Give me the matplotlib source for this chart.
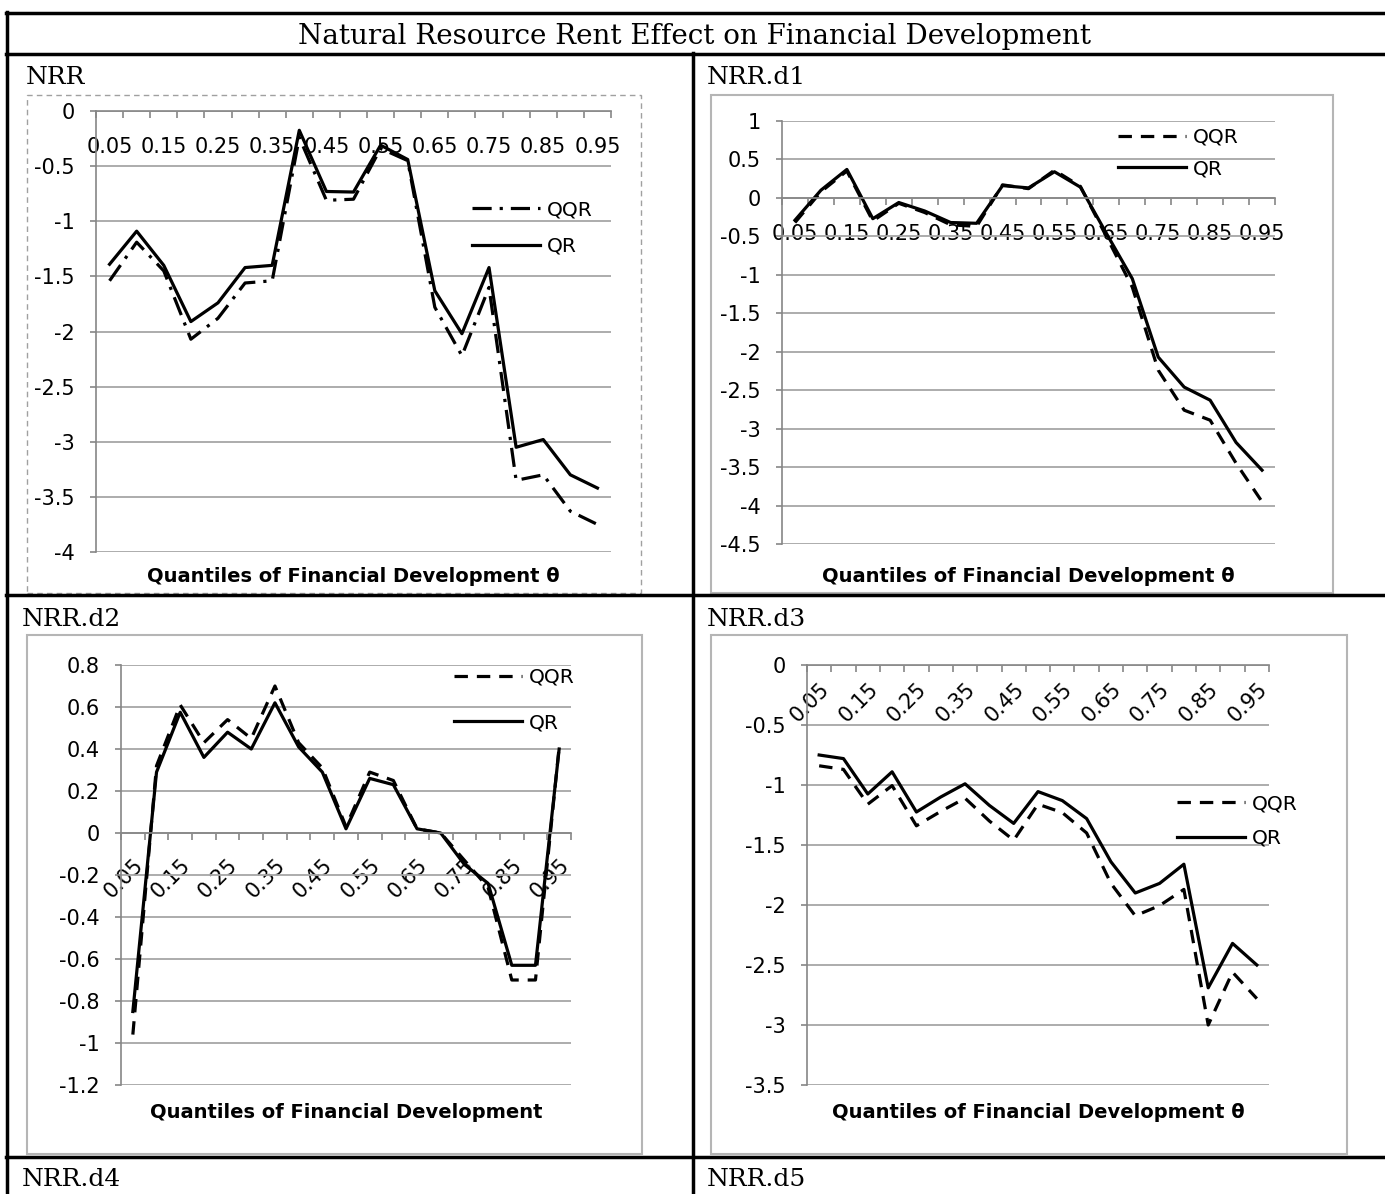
import matplotlib
matplotlib.use("Agg")
import matplotlib.pyplot as plt
from matplotlib.lines import Line2D
from matplotlib.patches import Rectangle

W, H = 1385, 1194

QUANTILES = ["0.05", "0.10", "0.15", "0.20", "0.25", "0.30", "0.35", "0.40", "0.45", "0.50",
             "0.55", "0.60", "0.65", "0.70", "0.75", "0.80", "0.85", "0.90", "0.95"]

NRR_QQR = [-1.54, -1.19, -1.45, -2.07, -1.88, -1.56, -1.54, -0.24, -0.81, -0.80,
           -0.34, -0.45, -1.78, -2.22, -1.60, -3.35, -3.30, -3.63, -3.75]
NRR_QR = [-1.39, -1.09, -1.40, -1.91, -1.74, -1.42, -1.40, -0.175, -0.73, -0.735,
          -0.31, -0.44, -1.63, -2.02, -1.42, -3.05, -2.98, -3.30, -3.42]

D1_QQR = [-0.32, 0.08, 0.35, -0.30, -0.07, -0.19, -0.35, -0.37, 0.17, 0.12,
          0.36, 0.15, -0.50, -1.16, -2.24, -2.76, -2.89, -3.45, -3.95]
D1_QR = [-0.29, 0.10, 0.37, -0.27, -0.06, -0.17, -0.32, -0.33, 0.16, 0.13,
         0.34, 0.14, -0.46, -1.05, -2.07, -2.46, -2.63, -3.18, -3.54]

D2_QQR = [-0.96, 0.32, 0.61, 0.43, 0.54, 0.45, 0.70, 0.43, 0.31, 0.03,
          0.29, 0.25, 0.02, 0.00, -0.13, -0.26, -0.70, -0.70, 0.41]
D2_QR = [-0.85, 0.29, 0.575, 0.36, 0.48, 0.40, 0.62, 0.41, 0.29, 0.02,
         0.26, 0.23, 0.02, 0.00, -0.15, -0.24, -0.63, -0.63, 0.40]

D3_QQR = [-0.84, -0.87, -1.16, -1.005, -1.34, -1.22, -1.11, -1.30, -1.46, -1.16,
          -1.23, -1.40, -1.82, -2.09, -2.005, -1.87, -3.00, -2.56, -2.78]
D3_QR = [-0.75, -0.78, -1.075, -0.89, -1.225, -1.10, -0.99, -1.17, -1.32, -1.055,
         -1.13, -1.28, -1.64, -1.90, -1.82, -1.66, -2.69, -2.32, -2.50]

SERIF = "DejaVu Serif"
SANS = "DejaVu Sans"
GRID = "#a6a6a6"
AXIS = "#868686"
TICK_FS = 15


def rect(l, t, r, b):
    # pixel box -> figure axes rect
    return [l / W, 1 - b / H, (r - l) / W, (b - t) / H]


def hline(fig, y, x0, x1, lw=2.5, color="black"):
    fig.add_artist(Line2D([x0 / W, x1 / W], [1 - y / H, 1 - y / H], color=color, lw=lw))


def vline(fig, x, y0, y1, lw=2.5, color="black"):
    fig.add_artist(Line2D([x / W, x / W], [1 - y0 / H, 1 - y1 / H], color=color, lw=lw))


def panel(fig, box, ylim, ystep, qqr, qr, qqr_style, xlabel, rotate, xpad,
          leg_xy, leg_space, label_y):
    ax = fig.add_axes(rect(*box))
    x = list(range(1, len(QUANTILES) + 1))
    ax.plot(x, qqr, color="black", lw=2.3, linestyle=qqr_style, label="QQR")
    ax.plot(x, qr, color="black", lw=2.3, linestyle="-", label="QR")
    ax.set_xlim(0.5, len(QUANTILES) + 0.5)
    ax.set_ylim(*ylim)
    nt = int(round((ylim[1] - ylim[0]) / ystep))
    yt = [round(ylim[0] + i * ystep, 2) for i in range(nt + 1)]
    ax.set_yticks(yt)
    ax.set_yticklabels([("%g" % v) for v in yt], fontsize=TICK_FS, family=SANS)
    ax.yaxis.grid(True, color=GRID, lw=1.3)
    ax.set_axisbelow(True)
    for s in ["top", "right"]:
        ax.spines[s].set_visible(False)
    for s in ["left", "bottom"]:
        ax.spines[s].set_color(AXIS)
        ax.spines[s].set_linewidth(1.2)
    ax.spines["bottom"].set_position(("data", 0))
    ax.set_xticks([i + 0.5 for i in range(0, len(QUANTILES) + 1)])
    ax.set_xticklabels([])
    ax.set_xticks(x[::2], minor=True)
    if rotate:
        ax.set_xticklabels(QUANTILES[::2], minor=True, rotation=45, ha="right",
                           rotation_mode="anchor", fontsize=TICK_FS, family=SANS)
    else:
        ax.set_xticklabels(QUANTILES[::2], minor=True, fontsize=TICK_FS, family=SANS)
    ax.tick_params(axis="x", which="major", direction="out", length=5, color=AXIS, width=1.2)
    ax.tick_params(axis="x", which="minor", length=0, pad=xpad)
    ax.tick_params(axis="y", direction="out", length=4.5, color=AXIS, width=1.2, pad=11)
    cx = (box[0] + box[2]) / 2
    fig.text(cx / W, 1 - label_y / H, xlabel, ha="center", va="center",
             fontsize=14, fontweight="bold", family=SANS)
    ax.legend(loc="center left", bbox_to_anchor=(leg_xy[0] / W, 1 - leg_xy[1] / H),
              bbox_transform=fig.transFigure, frameon=False,
              prop={"family": SANS, "size": 14.5}, handlelength=3.4, handletextpad=0.3,
              labelspacing=leg_space, borderpad=0, borderaxespad=0)
    return ax


fig = plt.figure(figsize=(W / 100, H / 100), dpi=100)

# table frame
hline(fig, 13, 6, W)
hline(fig, 54, 6, W)
hline(fig, 595, 6, W)
hline(fig, 1157, 6, W)
vline(fig, 7, 12, H)
vline(fig, 693, 53, H)

fig.text(694 / W, 1 - 37 / H, "Natural Resource Rent Effect on Financial Development",
         ha="center", va="center", fontsize=20, family=SERIF)
for lbl, px, py in [("NRR", 26, 78), ("NRR.d1", 707, 78), ("NRR.d2", 22, 620),
                    ("NRR.d3", 707, 620), ("NRR.d4", 22, 1179), ("NRR.d5", 707, 1179)]:
    fig.text(px / W, 1 - py / H, lbl, ha="left", va="center", fontsize=18, family=SERIF)

# chart area outlines
fig.add_artist(Rectangle((27 / W, 1 - 593 / H), (641 - 27) / W, (593 - 95) / H, fill=False,
                         ec="#a0a0a0", lw=1, ls=(0, (4, 3)), transform=fig.transFigure))
fig.add_artist(Rectangle((711 / W, 1 - 593 / H), (1333 - 711) / W, (593 - 95) / H, fill=False,
                         ec="#b5b5b5", lw=1.5, transform=fig.transFigure))
fig.add_artist(Rectangle((27 / W, 1 - 1154 / H), (642 - 27) / W, (1154 - 635) / H, fill=False,
                         ec="#b5b5b5", lw=1.5, transform=fig.transFigure))
fig.add_artist(Rectangle((711 / W, 1 - 1154 / H), (1347 - 711) / W, (1154 - 635) / H, fill=False,
                         ec="#b5b5b5", lw=1.5, transform=fig.transFigure))

DASHDOT = (0, (6, 2.5, 1, 2.5))
DASH = (0, (4.2, 2.8))

panel(fig, (96, 111, 611, 552), (-4, 0), 0.5, NRR_QQR, NRR_QR, DASHDOT,
      "Quantiles of Financial Development θ", False, 19, (472, 228), 0.85, 577)
panel(fig, (782, 121, 1275, 544), (-4.5, 1), 0.5, D1_QQR, D1_QR, DASH,
      "Quantiles of Financial Development θ", False, 19, (1118, 153), 0.62, 577)
panel(fig, (121, 665, 571, 1085), (-1.2, 0.8), 0.2, D2_QQR, D2_QR, DASH,
      "Quantiles of Financial Development", True, 16, (454, 700), 1.3, 1112)
panel(fig, (807, 665, 1269, 1085), (-3.5, 0), 0.5, D3_QQR, D3_QR, DASH,
      "Quantiles of Financial Development θ", True, 10, (1177, 821), 0.78, 1112)

fig.savefig("out.png", dpi=100)
